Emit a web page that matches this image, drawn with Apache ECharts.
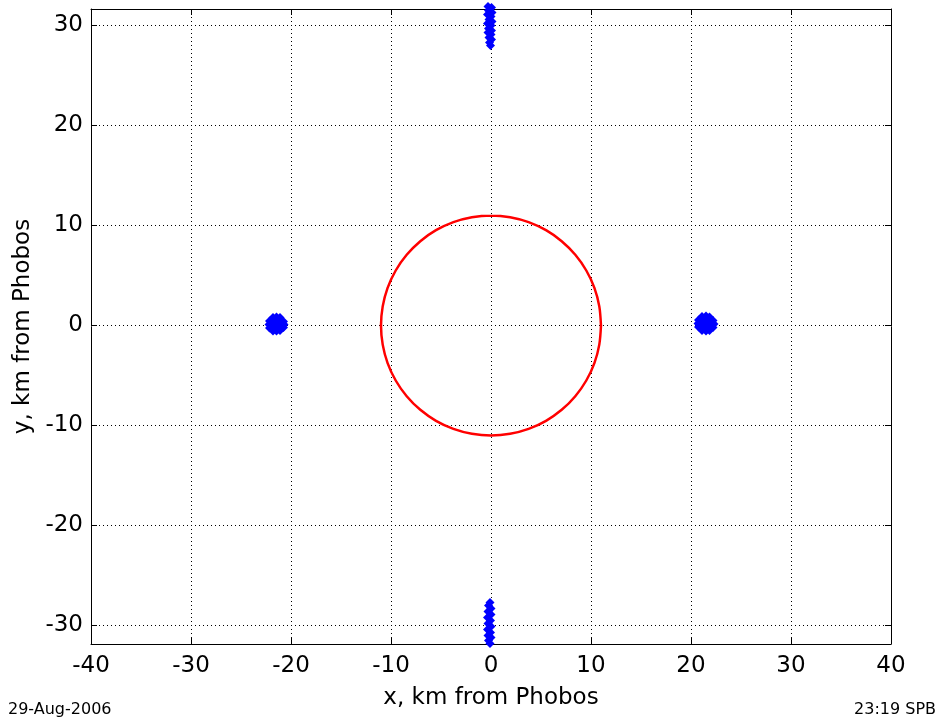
<!DOCTYPE html>
<html>
<head>
<meta charset="utf-8">
<script src="https://cdn.jsdelivr.net/npm/echarts@6/dist/echarts.min.js"></script>
<style>
  html, body { margin: 0; padding: 0; background: #ffffff; }
  #chart { width: 945px; height: 723px; }
</style>
</head>
<body>
<div id="chart"></div>
<script>
// Axis ticks
const xTicks = [-40, -30, -20, -10, 0, 10, 20, 30, 40];
const yTicks = [-30, -20, -10, 0, 10, 20, 30];

// Phobos outline, radius about 11 km (x, y in km)
const phobosOutline = [
  [11.00, 0.00], [10.83, 1.91], [10.34, 3.76], [9.53, 5.50], [8.43, 7.07],
  [7.07, 8.43], [5.50, 9.53], [3.76, 10.34], [1.91, 10.83], [0.00, 11.00],
  [-1.91, 10.83], [-3.76, 10.34], [-5.50, 9.53], [-7.07, 8.43], [-8.43, 7.07],
  [-9.53, 5.50], [-10.34, 3.76], [-10.83, 1.91], [-11.00, 0.00],
  [-10.83, -1.91], [-10.34, -3.76], [-9.53, -5.50], [-8.43, -7.07], [-7.07, -8.43],
  [-5.50, -9.53], [-3.76, -10.34], [-1.91, -10.83], [0.00, -11.00],
  [1.91, -10.83], [3.76, -10.34], [5.50, -9.53], [7.07, -8.43], [8.43, -7.07],
  [9.53, -5.50], [10.34, -3.76], [10.83, -1.91], [11.00, 0.00]
];

// Positions (km from Phobos) of the four point groups
const groupTop = [
  [-0.30, 31.9], [0.05, 31.8], [-0.25, 31.5], [0.10, 31.3], [-0.35, 31.1],
  [0.00, 30.9], [-0.20, 30.6], [0.10, 30.4], [-0.35, 30.2], [0.00, 30.0],
  [-0.25, 29.7], [0.05, 29.5], [-0.30, 29.3], [0.00, 29.1], [-0.20, 28.8],
  [0.05, 28.6], [-0.15, 28.3], [-0.05, 28.0]
];
const groupBottom = [
  [-0.10, -27.7], [-0.25, -28.0], [0.00, -28.3], [-0.30, -28.6], [0.00, -28.9],
  [-0.35, -29.2], [-0.05, -29.5], [-0.30, -29.8], [0.00, -30.1], [-0.35, -30.4],
  [-0.05, -30.7], [-0.30, -31.0], [0.00, -31.2], [-0.25, -31.5], [-0.10, -31.8]
];
const groupLeft = [
  [-21.80, 0.80], [-21.45, 0.85], [-21.10, 0.80],
  [-22.15, 0.45], [-21.80, 0.45], [-21.45, 0.50], [-21.10, 0.45], [-20.75, 0.40],
  [-22.20, 0.10], [-21.80, 0.10], [-21.45, 0.15], [-21.10, 0.10], [-20.70, 0.10],
  [-22.15, -0.25], [-21.80, -0.25], [-21.45, -0.20], [-21.10, -0.25], [-20.75, -0.20],
  [-21.80, -0.55], [-21.45, -0.55], [-21.10, -0.50]
];
const groupRight = [
  [21.10, 0.90], [21.50, 0.95], [21.85, 0.85],
  [20.75, 0.55], [21.10, 0.55], [21.50, 0.60], [21.90, 0.55], [22.20, 0.50],
  [20.70, 0.20], [21.10, 0.20], [21.50, 0.20], [21.90, 0.20], [22.30, 0.15],
  [20.75, -0.15], [21.10, -0.15], [21.50, -0.10], [21.90, -0.15], [22.20, -0.20],
  [21.10, -0.50], [21.50, -0.55], [21.85, -0.50]
];

const FONT = '"DejaVu Sans", Arial, sans-serif';
const gridDots = { color: '#000000', width: 1, type: [1, 3] };
const frameLine = { show: true, onZero: false, lineStyle: { color: '#000000', width: 1 } };
const tickIn = { show: true, inside: true, length: 6, lineStyle: { color: '#000000' } };

const chart = echarts.init(document.getElementById('chart'), null, { renderer: 'canvas' });

const pointSeries = (data) => ({
  type: 'scatter',
  xAxisIndex: 0, yAxisIndex: 0,
  data: data,
  symbol: 'diamond',
  symbolSize: 9,
  clip: false,
  itemStyle: { color: '#0000ff', opacity: 1 },
  z: 3
});

chart.setOption({
  backgroundColor: '#ffffff',
  animation: false,
  grid: { left: 91, right: 54, top: 9, bottom: 79, containLabel: false },
  xAxis: [
    {
      type: 'value', min: -40, max: 40, interval: 10, position: 'bottom',
      name: 'x, km from Phobos', nameLocation: 'middle', nameGap: 43,
      nameTextStyle: { fontFamily: FONT, fontSize: 23, color: '#000000' },
      axisLine: frameLine, axisTick: tickIn,
      axisLabel: { fontFamily: FONT, fontSize: 23, color: '#000000', margin: 11,
        customValues: xTicks },
      splitLine: { show: true, lineStyle: gridDots }
    },
    {
      type: 'value', min: -40, max: 40, interval: 10, position: 'top',
      axisLine: frameLine, axisTick: tickIn,
      axisLabel: { show: false }, splitLine: { show: false }
    }
  ],
  yAxis: [
    {
      type: 'value', min: -31.85, max: 31.65, splitNumber: 6, position: 'left',
      name: 'y, km from Phobos', nameLocation: 'middle', nameGap: 50,
      nameTextStyle: { fontFamily: FONT, fontSize: 23, color: '#000000' },
      axisLine: frameLine,
      axisTick: Object.assign({}, tickIn, { customValues: yTicks }),
      axisLabel: { fontFamily: FONT, fontSize: 23, color: '#000000', margin: 8,
        customValues: yTicks },
      splitLine: { show: true, lineStyle: gridDots }
    },
    {
      type: 'value', min: -31.85, max: 31.65, splitNumber: 6, position: 'right',
      axisLine: frameLine,
      axisTick: Object.assign({}, tickIn, { customValues: yTicks }),
      axisLabel: { show: false }, splitLine: { show: false }
    }
  ],
  series: [
    {
      type: 'line',
      xAxisIndex: 0, yAxisIndex: 0,
      data: phobosOutline,
      showSymbol: false,
      symbol: 'none',
      smooth: 0.3,
      lineStyle: { color: '#ff0000', width: 2.5 },
      z: 2
    },
    pointSeries(groupTop),
    pointSeries(groupBottom),
    pointSeries(groupLeft),
    pointSeries(groupRight)
  ],
  graphic: [
    { type: 'text', left: 8, top: 702,
      style: { text: '29-Aug-2006', fontFamily: FONT, fontSize: 16, fill: '#000000' } },
    { type: 'text', right: 9, top: 702,
      style: { text: '23:19 SPB', fontFamily: FONT, fontSize: 16, fill: '#000000' } }
  ]
});
</script>
</body>
</html>
